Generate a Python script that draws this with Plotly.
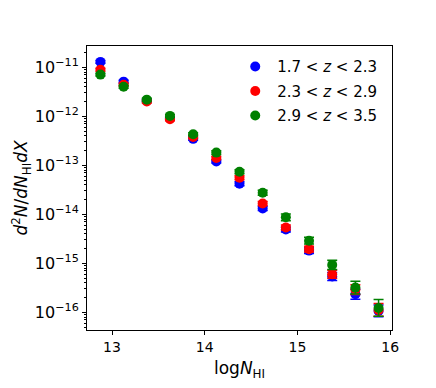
import plotly.graph_objects as go

# bin centres in log N_HI
log_nhi = [12.875, 13.125, 13.375, 13.625, 13.875, 14.125, 14.375,
           14.625, 14.875, 15.125, 15.375, 15.625, 15.875]

# f(N_HI, X) for the three redshift bins
f_low = [1.29e-11, 5.1e-12, 2.09e-12, 9.1e-13, 3.47e-13, 1.20e-13, 4.2e-14,
         1.32e-14, 4.9e-15, 1.82e-15, 5.4e-16, 2.34e-16, 1.07e-16]
f_mid = [8.9e-12, 4.4e-12, 2.0e-12, 8.7e-13, 3.8e-13, 1.41e-13, 5.6e-14,
         1.66e-14, 5.4e-15, 1.95e-15, 6.0e-16, 2.9e-16, 1.12e-16]
f_high = [7.1e-12, 4.0e-12, 2.19e-12, 1.02e-12, 4.3e-13, 1.82e-13, 7.4e-14,
          2.75e-14, 8.7e-15, 2.9e-15, 9.3e-16, 3.2e-16, 1.23e-16]

# error size in dex
err_low = [0.03, 0.03, 0.03, 0.03, 0.03, 0.03, 0.04, 0.04, 0.05, 0.06, 0.08, 0.10, 0.12]
err_mid = [0.03, 0.03, 0.03, 0.03, 0.03, 0.03, 0.04, 0.04, 0.05, 0.06, 0.08, 0.10, 0.13]
err_high = [0.03, 0.03, 0.03, 0.03, 0.03, 0.04, 0.04, 0.05, 0.07, 0.07, 0.095, 0.13, 0.17]

labels = ["1.7 &lt; <i>z</i> &lt; 2.3", "2.3 &lt; <i>z</i> &lt; 2.9", "2.9 &lt; <i>z</i> &lt; 3.5"]
colors = ["blue", "red", "green"]

# y ticks: decades with power labels, minor ticks at 2..9 x each decade
y_decades = [-16, -15, -14, -13, -12, -11]
y_ticks = [10.0 ** p for p in y_decades]
y_ticktext = ["10<sup>\u2212%d</sup>" % -p for p in y_decades]
minor_y = [m * 10.0 ** p for p in range(-17, -10) for m in range(2, 10)]

fig = go.Figure()
for i, (vals, errs, name, c) in enumerate(zip([f_low, f_mid, f_high],
                                              [err_low, err_mid, err_high], labels, colors)):
    plus = [v * (10 ** e - 1) for v, e in zip(vals, errs)]
    minus = [v * (1 - 10 ** -e) for v, e in zip(vals, errs)]
    fig.add_trace(go.Scatter(x=log_nhi, y=vals,
                             mode="markers",
                             name=name,
                             legendgroup=str(i),
                             marker=dict(color=c, size=10),
                             error_y=dict(type="data", symmetric=False,
                                          array=plus, arrayminus=minus,
                                          color=c, thickness=1.5, width=5)))

# page body has an 8px margin, so the figure is a bit smaller than the window
fig.update_layout(width=428, height=380,
                  margin=dict(l=79, r=44, t=38, b=58),
                  plot_bgcolor="white",
                  paper_bgcolor="white",
                  font=dict(family="DejaVu Sans", size=14, color="black"),
                  showlegend=True,
                  legend=dict(x=0.968, y=0.985, xanchor="right", yanchor="top",
                              font_size=15, bgcolor="rgba(0,0,0,0)",
                              tracegroupgap=2, itemwidth=34))

fig.update_xaxes(range=[12.73, 16.02],
                 showline=True, linecolor="black", linewidth=1, mirror=True,
                 showgrid=False, zeroline=False,
                 ticks="outside", ticklen=4, tickwidth=1, tickcolor="black",
                 tickvals=[13, 14, 15, 16],
                 title=dict(text="log<i>N</i><sub>HI</sub>", standoff=8))
fig.update_yaxes(type="log", range=[-16.36, -10.565],
                 showline=True, linecolor="black", linewidth=1, mirror=True,
                 showgrid=False, zeroline=False,
                 ticks="outside", ticklen=4, tickwidth=1, tickcolor="black",
                 tickvals=y_ticks, ticktext=y_ticktext, tickfont_size=16,
                 minor=dict(ticks="outside", ticklen=2.5, tickwidth=1, tickcolor="black",
                            tickvals=minor_y, showgrid=False),
                 title=dict(text="<i>d</i><sup>2</sup><i>N</i>/<i>dN</i><sub>HI</sub><i>dX</i>",
                            standoff=2))

fig.write_html("out.html")
